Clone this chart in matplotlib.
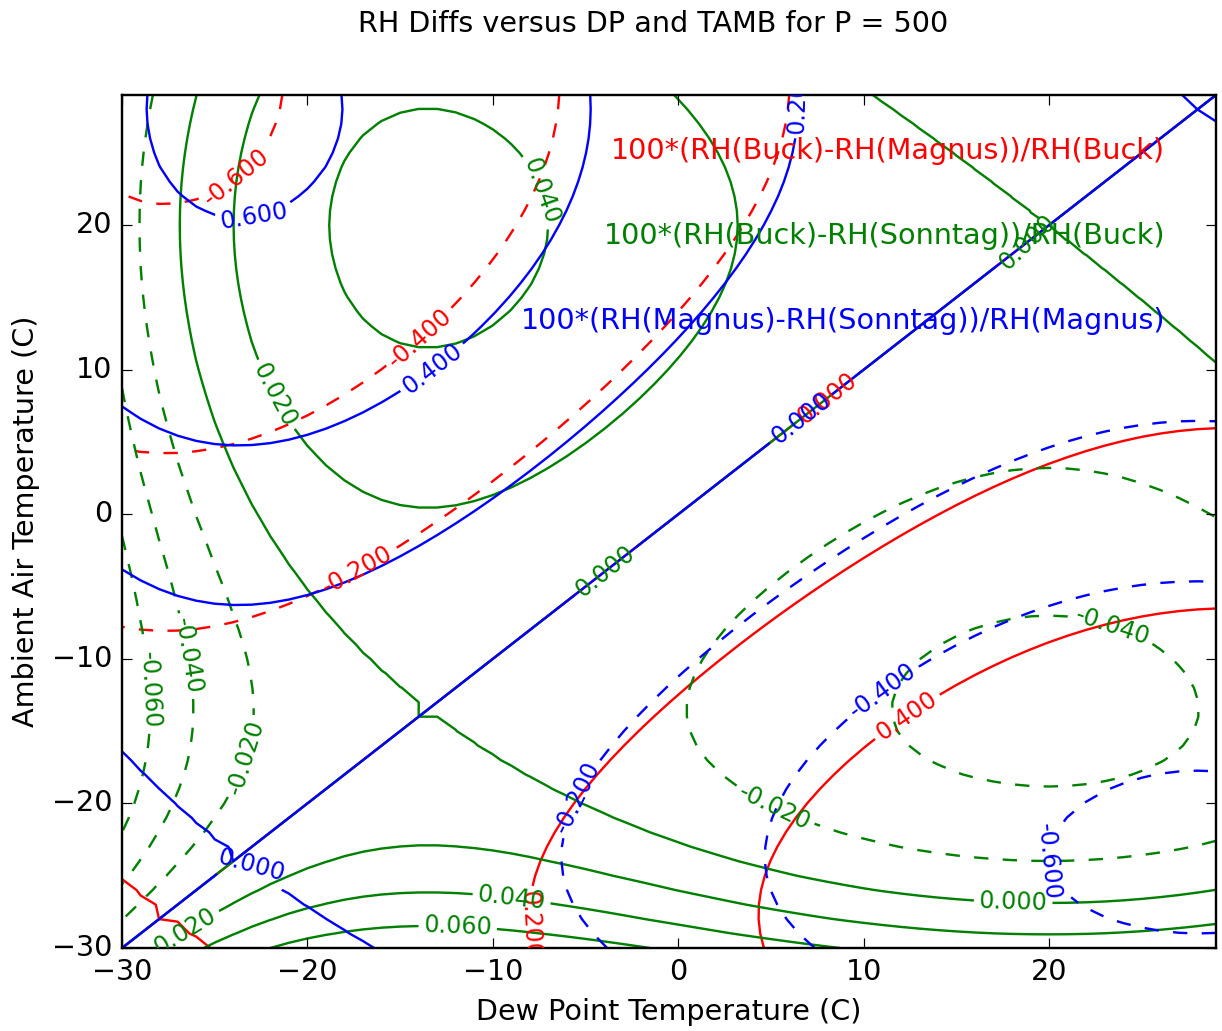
import numpy as np
import matplotlib
matplotlib.use('Agg')
import matplotlib.pyplot as plt

plt.style.use('classic')
plt.rcParams['font.family'] = ['DejaVu Sans']
plt.rcParams['axes.unicode_minus'] = True

# ---------------- data ----------------
pressure = 500.0                       # hPa
dew_point = np.arange(-30, 30, 1.0)    # deg C (x)
t_ambient = np.arange(-30, 30, 1.0)    # deg C (y)

# Buck (1996) saturation vapour pressure + enhancement factor
buck_coef = [6.1121, 18.678, 234.5, 257.14]
buck_enh = [7.2, 0.0320, 5.9e-6]
# Magnus form (Sonntag 1990 constants)
magnus_coef = [6.112, 17.62, 243.12]
# Sonntag (1990) over water, hPa
sonntag_coef = [-6096.9385, 16.635794, -2.711193e-2, 1.673952e-5, 2.433502]

# contour levels (as np.arange would give them: the top end is excluded)
levels_bm = np.arange(-0.6, 0.6, 0.2)
levels_bs = [-0.06, -0.04, -0.02, 0.0, 0.02, 0.04, 0.06]
levels_ms = [-0.6, -0.4, -0.2, 0.0, 0.2, 0.4, 0.6]

label_bm = "100*(RH(Buck)-RH(Magnus))/RH(Buck)"
label_bs = "100*(RH(Buck)-RH(Sonntag))/RH(Buck)"
label_ms = "100*(RH(Magnus)-RH(Sonntag))/RH(Magnus)"
title = "RH Diffs versus DP and TAMB for P = 500"

# contour-label anchor points (data coords)
pos_bm = [(-23.8, 23.25), (-13.93, 12.19), (-17.27, -4.0), (7.76, 8.45),
          (12.4, -14.1), (-8.0, -28.4)]
pos_bs = [(-8.1, 22.0), (-22.1, 8.0), (18.7, 19.0), (-26.9, -9.9),
          (-28.8, -12.2), (-23.4, -16.8), (-3.95, -3.9), (-26.6, -28.8),
          (-9.0, -26.7), (-11.9, -28.8), (5.06, -20.6), (23.2, -8.7),
          (18.06, -27.0)]
pos_ms = [(-22.9, 20.7), (-13.2, 10.0), (6.2, 28.7), (6.57, 6.65),
          (-22.9, -24.05), (-5.4, -19.6), (10.9, -12.0), (19.5, -24.05)]


def e_buck(t):
    a, b, c, d = buck_coef
    f = 1.0 + 1e-4 * (buck_enh[0] + pressure * (buck_enh[1] + buck_enh[2] * t ** 2))
    return f * a * np.exp((b - t / c) * t / (d + t))


def e_magnus(t):
    a, b, c = magnus_coef
    return a * np.exp(b * t / (c + t))


def e_sonntag(t):
    s0, s1, s2, s3, s4 = sonntag_coef
    T = t + 273.15
    return np.exp(s0 / T + s1 + s2 * T + s3 * T ** 2 + s4 * np.log(T))


DP, TA = np.meshgrid(dew_point, t_ambient)
rh_b = 100.0 * e_buck(DP) / e_buck(TA)
rh_m = 100.0 * e_magnus(DP) / e_magnus(TA)
rh_s = 100.0 * e_sonntag(DP) / e_sonntag(TA)

d_bm = 100.0 * (rh_b - rh_m) / rh_b
d_bs = 100.0 * (rh_b - rh_s) / rh_b
d_ms = 100.0 * (rh_m - rh_s) / rh_m

# ---------------- figure ----------------
DPI = 172
W, H = 1222, 1031
fig = plt.figure(figsize=(W / DPI, H / DPI), dpi=DPI, facecolor='white')
ax = fig.add_axes([122 / W, 1 - 948 / H, 1094 / W, 853 / H])


def draw(z, levels, color, pos):
    cs = ax.contour(DP, TA, z, levels=levels, colors=color, linewidths=1.0)
    txts = ax.clabel(cs, fmt='%1.3f', fontsize=10, inline=True, manual=pos)
    for t in txts:
        t.set_clip_on(True)
    return cs


draw(d_bm, levels_bm, 'r', pos_bm)
draw(d_bs, levels_bs, 'g', pos_bs)
draw(d_ms, levels_ms, 'b', pos_ms)

ax.set_xlim(dew_point[0], dew_point[-1])
ax.set_ylim(t_ambient[0], t_ambient[-1])
ax.set_xticks([-30, -20, -10, 0, 10, 20])
ax.set_yticks([-30, -20, -10, 0, 10, 20])
ax.set_xlabel('Dew Point Temperature (C)')
ax.set_ylabel('Ambient Air Temperature (C)')

fig.text(1165 / W, 1 - 159 / H, label_bm, color='r', fontsize=12,
         ha='right', va='baseline')
fig.text(1165 / W, 1 - 244 / H, label_bs, color='g', fontsize=12,
         ha='right', va='baseline')
fig.text(1165 / W, 1 - 329 / H, label_ms, color='b', fontsize=12,
         ha='right', va='baseline')
fig.text(653 / W, 1 - 32 / H, title, fontsize=12, ha='center', va='baseline')

fig.savefig('out.png', dpi=DPI, facecolor='white')
